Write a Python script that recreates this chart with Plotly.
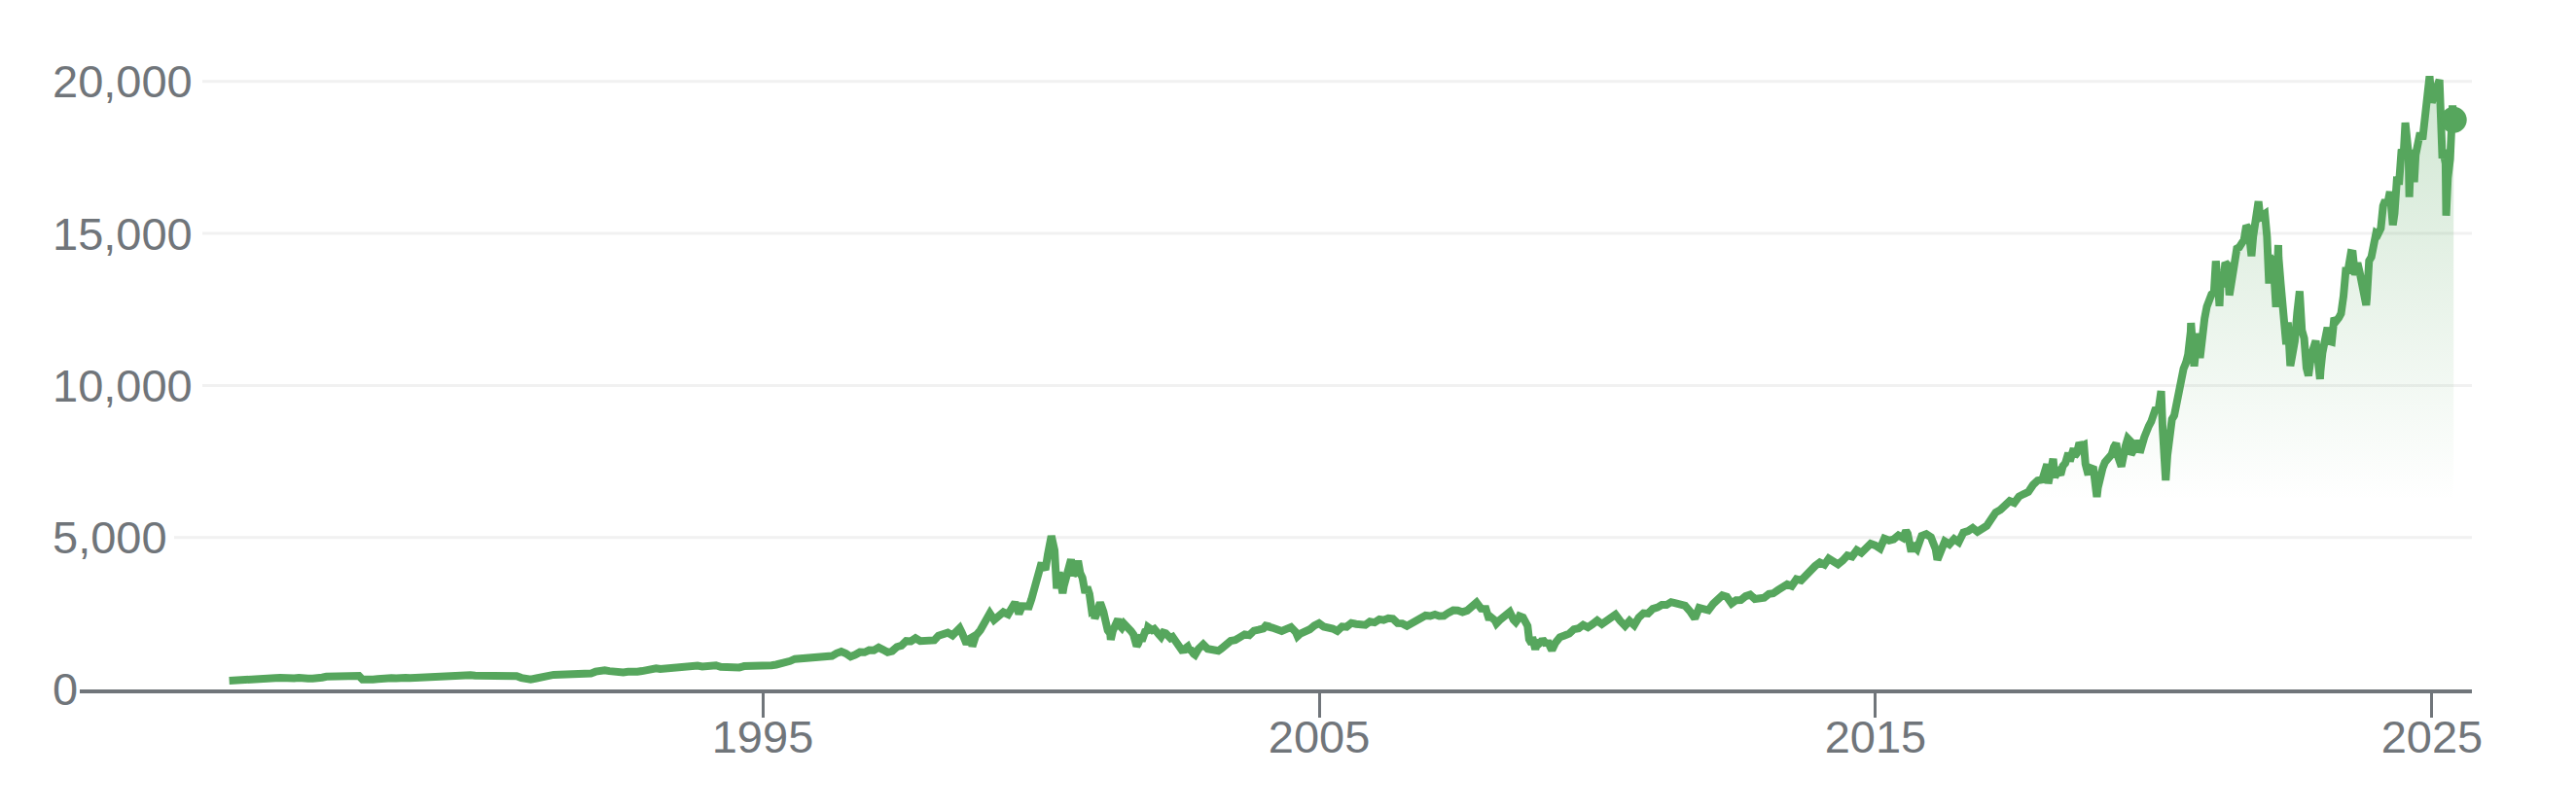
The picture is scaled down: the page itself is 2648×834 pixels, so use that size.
import pandas as pd
import plotly.graph_objects as go

# Nasdaq Composite, approximate month-end closes, May 1985 - Apr 2025
close_1985_1989 = [
    290.8, 296.2, 301.3, 297.7, 280.3, 292.3, 313.9, 324.9,
    335.8, 359.5, 374.7, 383.2, 400.2, 405.5, 371.4, 382.9, 350.7, 360.8, 359.6, 348.8,
    392.1, 424.0, 430.1, 417.8, 416.0, 424.7, 434.9, 454.9, 444.3, 323.3, 305.2, 330.5,
    344.7, 366.6, 374.6, 379.2, 370.3, 394.7, 387.3, 376.6, 387.7, 382.5, 371.5, 381.4,
    401.3, 399.7, 406.7, 427.6, 446.2, 435.3, 453.8, 469.3, 472.9, 455.6, 456.1, 454.8,
]
close_1990_1994 = [
    410.7, 425.8, 435.5, 420.1, 458.0, 462.3, 438.2, 381.2, 344.5, 329.8, 359.1, 373.8,
    414.2, 453.1, 482.3, 484.7, 506.1, 475.9, 502.0, 525.7, 526.9, 542.9, 523.9, 586.3,
    620.2, 633.5, 603.8, 578.7, 585.3, 563.6, 580.8, 563.1, 583.3, 605.2, 652.7, 677.0,
    696.3, 670.8, 690.1, 661.4, 700.5, 703.9, 704.7, 742.8, 763.0, 779.3, 754.4, 776.8,
    800.5, 793.0, 743.5, 733.8, 735.2, 706.0, 722.2, 765.6, 764.3, 777.5, 750.3, 752.0,
]
close_1995_1999 = [
    755.2, 793.7, 817.2, 843.9, 864.6, 933.5, 1001.2, 1020.1, 1043.5, 1036.1, 1059.2, 1052.1,
    1059.8, 1100.1, 1101.4, 1190.5, 1243.4, 1185.0, 1080.6, 1141.5, 1226.9, 1221.5, 1292.6, 1291.0,
    1379.9, 1309.0, 1221.7, 1260.8, 1400.3, 1442.1, 1593.8, 1587.3, 1685.7, 1593.6, 1600.6, 1570.4,
    1619.4, 1770.5, 1835.7, 1868.4, 1778.9, 1894.7, 1872.4, 1499.3, 1694.8, 1771.4, 1949.5, 2192.7,
    2505.9, 2288.0, 2461.4, 2542.9, 2470.5, 2686.1, 2638.5, 2739.4, 2746.2, 2966.4, 3336.2, 4069.3,
]
close_2000_2004 = [
    3940.4, 4696.7, 4572.8, 3860.7, 3400.9, 3966.1, 3767.0, 4206.4, 3672.8, 3369.6, 2597.9, 2470.5,
    2772.7, 2151.8, 1840.3, 2116.2, 2110.5, 2160.5, 2027.1, 1805.4, 1498.8, 1690.2, 1930.6, 1950.4,
    1934.0, 1731.5, 1845.4, 1688.2, 1615.7, 1463.2, 1328.3, 1314.9, 1172.1, 1329.8, 1478.8, 1335.5,
    1320.9, 1337.5, 1341.2, 1464.3, 1595.9, 1622.8, 1735.0, 1810.5, 1786.9, 1932.2, 1960.3, 2003.4,
    2066.2, 2029.8, 1994.2, 1920.2, 1986.7, 2047.8, 1887.4, 1838.1, 1896.8, 1975.0, 2096.8, 2175.4,
]
close_2005_2009 = [
    2062.4, 2051.7, 1999.2, 1921.7, 2068.2, 2057.0, 2184.8, 2152.1, 2151.7, 2120.3, 2232.8, 2205.3,
    2305.8, 2281.4, 2339.8, 2322.6, 2178.9, 2172.1, 2091.5, 2183.8, 2258.4, 2366.7, 2431.8, 2415.3,
    2463.9, 2416.2, 2421.6, 2525.1, 2604.5, 2603.2, 2546.3, 2596.4, 2701.5, 2859.1, 2661.0, 2652.3,
    2389.9, 2271.5, 2279.1, 2412.8, 2522.7, 2293.0, 2325.6, 2367.5, 2091.9, 1721.0, 1535.6, 1577.0,
    1476.4, 1377.8, 1528.6, 1717.3, 1774.3, 1835.0, 1979.0, 2009.1, 2122.4, 2045.1, 2144.6, 2269.2,
]
close_2010_2014 = [
    2147.4, 2238.3, 2398.0, 2461.2, 2257.0, 2109.2, 2254.7, 2114.0, 2368.6, 2507.4, 2498.2, 2652.9,
    2700.1, 2782.3, 2781.1, 2873.5, 2835.3, 2773.5, 2756.4, 2579.5, 2415.4, 2684.4, 2620.3, 2605.2,
    2813.8, 2966.9, 3091.6, 3046.4, 2827.3, 2935.1, 2939.5, 3067.0, 3116.2, 2977.2, 3010.2, 3019.5,
    3142.1, 3160.2, 3267.5, 3328.8, 3455.9, 3403.3, 3626.4, 3589.9, 3771.5, 3919.7, 4059.9, 4176.6,
    4104.0, 4308.1, 4199.0, 4114.6, 4242.6, 4408.2, 4369.8, 4580.3, 4493.4, 4630.7, 4791.6, 4736.1,
]
close_2015_2019 = [
    4635.2, 4963.5, 4900.9, 4941.4, 5070.0, 4986.9, 5128.3, 4776.5, 4620.2, 5053.8, 5108.7, 5007.4,
    4614.0, 4558.0, 4869.8, 4775.4, 4948.1, 4843.0, 5162.1, 5213.2, 5312.0, 5189.1, 5323.7, 5383.1,
    5614.8, 5825.4, 5911.7, 6047.6, 6198.5, 6140.4, 6348.1, 6428.7, 6496.0, 6727.7, 6874.0, 6903.4,
    7411.5, 7273.0, 7063.4, 7066.3, 7442.1, 7510.3, 7671.8, 8109.5, 8046.4, 7305.9, 7330.5, 6635.3,
    7281.7, 7532.5, 7729.3, 8095.4, 7453.2, 8006.2, 8175.4, 7962.9, 7999.3, 8292.4, 8665.5, 8972.6,
]
close_2020_2025 = [
    9150.9, 8567.4, 7700.1, 8889.6, 9489.9, 10058.8, 10745.3, 11775.5, 11167.5, 10911.6, 12198.7, 12888.3,
    13070.7, 13192.3, 13246.9, 13962.7, 13748.7, 14504.0, 14672.7, 15259.2, 14448.6, 15498.4, 15537.7, 15645.0,
    14239.9, 13751.4, 14220.5, 12334.6, 12081.4, 11028.7, 12390.7, 11816.2, 10575.6, 10988.2, 11468.0, 10466.5,
    11584.6, 11455.5, 12221.9, 12226.6, 12935.3, 13787.9, 14346.0, 14035.0, 13219.3, 12851.2, 14226.2, 15011.4,
    15164.0, 16091.9, 16379.5, 15657.8, 16735.0, 17732.6, 17599.4, 17713.6, 18189.2, 18095.2, 19218.2, 19310.8,
    19627.4, 18847.3, 17299.3, 17446.3,
]

# intra-month swings visible in the chart
swing_dates_1987_2003 = [
    "1987-10-23", "1998-07-17", "1998-09-15", "1998-10-08",
    "1999-01-15", "1999-07-16", "1999-08-10", "1999-09-15", "1999-10-15", "1999-11-15", "1999-12-15",
    "2000-01-14", "2000-02-15", "2000-03-10", "2000-04-14", "2000-05-23", "2000-07-17", "2000-08-15",
    "2000-09-01", "2000-09-15", "2000-10-18", "2000-11-15", "2000-12-15", "2000-12-20",
    "2001-01-24", "2001-02-15", "2001-03-15", "2001-04-04", "2001-04-17", "2001-05-22", "2001-06-15",
    "2001-08-15", "2001-09-21", "2001-10-15", "2001-11-15", "2001-12-05",
    "2002-01-15", "2002-02-15", "2002-03-15", "2002-04-15", "2002-05-15", "2002-06-14", "2002-07-23",
    "2002-08-22", "2002-09-13", "2002-10-09", "2002-12-02", "2003-03-11",
]
swing_values_1987_2003 = [
    328.0, 2014.2, 1650.0, 1419.0,
    2348.2, 2864.5, 2491.2, 2749.6, 2731.3, 3221.2, 3716.1,
    4064.3, 4420.8, 5048.6, 3321.3, 3164.6, 4274.7, 3851.7,
    4234.3, 3835.2, 3171.6, 3138.3, 2653.3, 2332.8,
    2859.2, 2552.9, 1940.7, 1638.8, 1923.2, 2313.9, 2028.4,
    1918.9, 1423.2, 1696.3, 1900.6, 2046.8,
    1991.0, 1805.2, 1868.3, 1756.2, 1730.3, 1504.7, 1229.1,
    1409.3, 1292.3, 1139.9, 1484.8, 1271.5,
]
swing_dates_2004_2019 = [
    "2004-01-26", "2004-08-12", "2007-10-31", "2008-01-22", "2008-03-10", "2008-06-05", "2008-07-15",
    "2008-08-08", "2008-10-10", "2008-10-27", "2008-11-20", "2008-12-15", "2009-01-06", "2009-02-09",
    "2009-03-09", "2010-07-02", "2011-10-03", "2015-07-20", "2015-08-24", "2016-02-11",
    "2018-01-16", "2018-02-08", "2018-02-15", "2018-03-12", "2018-03-23", "2018-04-16", "2018-05-15",
    "2018-06-20", "2018-07-25", "2018-08-15", "2018-08-29", "2018-09-14", "2018-10-10", "2018-10-29",
    "2018-11-15", "2018-12-14", "2018-12-24",
    "2019-01-15", "2019-02-15", "2019-03-15", "2019-04-15", "2019-05-13", "2019-06-03", "2019-07-15",
    "2019-08-05", "2019-09-13", "2019-10-02", "2019-11-15", "2019-12-16",
]
swing_values_2004_2019 = [
    2153.8, 1752.5, 2859.1, 2292.3, 2169.3, 2549.9, 2215.7,
    2414.1, 1649.5, 1505.9, 1316.1, 1508.3, 1652.4, 1591.7,
    1293.9, 2091.8, 2335.8, 5218.9, 4526.3, 4266.8,
    7223.7, 6777.2, 7256.4, 7588.3, 6993.0, 7156.3, 7351.6,
    7781.5, 7932.2, 7774.1, 8109.7, 8010.0, 7422.1, 7050.3,
    7259.0, 6910.7, 6333.0,
    7023.8, 7472.4, 7688.5, 7976.0, 7647.0, 7333.0, 8258.2,
    7726.0, 8176.7, 7785.3, 8540.8, 8814.2,
]
swing_dates_2020_2025 = [
    "2020-01-15", "2020-02-19", "2020-03-13", "2020-03-20", "2020-04-15", "2020-05-15", "2020-06-15",
    "2020-07-15", "2020-08-14", "2020-09-02", "2020-09-23", "2020-10-15", "2020-11-13", "2020-12-15",
    "2021-01-15", "2021-02-12", "2021-03-08", "2021-03-15", "2021-04-15", "2021-05-12", "2021-06-15",
    "2021-07-15", "2021-08-16", "2021-09-15", "2021-10-04", "2021-10-15", "2021-11-19", "2021-12-15",
    "2022-01-14", "2022-01-27", "2022-02-15", "2022-03-14", "2022-03-29", "2022-04-14", "2022-05-13",
    "2022-05-20", "2022-06-16", "2022-07-15", "2022-08-16", "2022-09-15", "2022-10-13", "2022-11-15",
    "2022-12-15", "2022-12-28",
    "2023-01-13", "2023-02-15", "2023-03-15", "2023-04-14", "2023-05-15", "2023-06-15", "2023-07-19",
    "2023-08-15", "2023-09-15", "2023-10-27", "2023-11-15", "2023-12-15",
    "2024-01-12", "2024-02-15", "2024-03-15", "2024-04-19", "2024-05-15", "2024-06-14", "2024-07-10",
    "2024-08-05", "2024-08-15", "2024-09-06", "2024-09-16", "2024-10-15", "2024-11-15", "2024-12-16",
    "2025-01-15", "2025-02-19", "2025-03-10", "2025-03-14", "2025-04-04", "2025-04-15", "2025-05-16",
    "2025-05-23",
]
swing_values_2020_2025 = [
    9258.7, 9817.2, 7874.9, 6879.5, 8393.2, 9014.6, 9726.0,
    10550.5, 11019.3, 12056.4, 10633.0, 11714.0, 11829.3, 12595.1,
    12998.5, 14095.5, 12609.2, 13459.7, 14038.8, 12971.0, 14072.9,
    14543.1, 14793.8, 15161.5, 14255.5, 14897.3, 16057.4, 15565.6,
    14893.8, 13352.8, 14139.8, 12581.2, 14619.6, 13351.1, 11805.0,
    11354.6, 10646.1, 11452.4, 13102.6, 11552.4, 10321.4, 11358.4,
    10810.5, 10213.3,
    11079.2, 11910.5, 11434.1, 12123.5, 12365.2, 13782.8, 14358.0,
    13631.1, 13708.3, 12643.0, 14103.8, 14813.9,
    14972.8, 15906.2, 15973.2, 15282.0, 16742.4, 17688.9, 18647.5,
    16200.1, 17594.5, 16690.8, 17592.1, 18315.6, 18680.1, 20173.9,
    19511.2, 20056.3, 17468.3, 17754.1, 15587.8, 16823.2, 19211.1,
    18737.2,
]

y_ticks = [0, 5000, 10000, 15000, 20000]
y_tick_labels = ["0", "5,000", "10,000", "15,000", "20,000"]
x_ticks = ["1995-01-01", "2005-01-01", "2015-01-01", "2025-01-01"]
x_tick_labels = ["1995", "2005", "2015", "2025"]

monthly = (close_1985_1989 + close_1990_1994 + close_1995_1999 + close_2000_2004
           + close_2005_2009 + close_2010_2014 + close_2015_2019 + close_2020_2025)
m_dates = pd.date_range("1985-05-01", periods=len(monthly), freq="MS") + pd.offsets.MonthEnd(0)

swing_dates = swing_dates_1987_2003 + swing_dates_2004_2019 + swing_dates_2020_2025
swing_values = swing_values_1987_2003 + swing_values_2004_2019 + swing_values_2020_2025

df = pd.concat([
    pd.DataFrame({"date": m_dates, "close": monthly}),
    pd.DataFrame({"date": pd.to_datetime(swing_dates), "close": swing_values}),
]).sort_values("date").drop_duplicates("date").reset_index(drop=True)

GREEN = "#56a65d"
GRAY = "#70757a"
FONT = "Arial, Liberation Sans, sans-serif"

# the page body has an 8px margin; compensate so the plot lands at the reference pixels
OFF = 8
W, H = 2648 - 2 * OFF, 834 - 2 * OFF
ML, MT = 53 - OFF, 40 - OFF
plot_w = 2541 - 53
plot_h = 709 - 40
MR = W - ML - plot_w
MB = H - MT - plot_h

def px_to_paper(px):
    return (px - 53) / plot_w

fig = go.Figure()
fig.add_trace(go.Scatter(
    x=df["date"], y=df["close"], mode="lines",
    line=dict(color=GREEN, width=8),
    fill="tozeroy",
    fillgradient=dict(type="vertical",
                      colorscale=[[0, "rgba(86,166,93,0)"], [1, "rgba(86,166,93,0.28)"]],
                      start=6200, stop=20300),
    hoverinfo="skip",
))
fig.add_trace(go.Scatter(
    x=[df["date"].iloc[-1]], y=[df["close"].iloc[-1]], mode="markers",
    marker=dict(color=GREEN, size=27), hoverinfo="skip",
))

# gridlines start just after each label
shapes = []
for v, lab in zip(y_ticks[1:], y_tick_labels[1:]):
    start_px = 208 if len(lab) > 5 else 179
    shapes.append(dict(type="line", xref="paper", yref="y",
                       x0=px_to_paper(start_px), x1=1, y0=v, y1=v,
                       line=dict(color="#f1f1f1", width=3), layer="below"))

fig.update_layout(
    width=W, height=H,
    margin=dict(l=ML, r=MR, t=MT, b=MB),
    paper_bgcolor="white", plot_bgcolor="white",
    showlegend=False,
    shapes=shapes,
    xaxis=dict(
        domain=[px_to_paper(82), 1],
        range=["1982-09-23", "2025-09-20"],
        tickvals=x_ticks, ticktext=x_tick_labels,
        showline=True, linecolor=GRAY, linewidth=4,
        ticks="outside", ticklen=25, tickwidth=3, tickcolor=GRAY,
        ticklabelstandoff=-20,
        tickfont=dict(family=FONT, size=47, color=GRAY),
        showgrid=False, zeroline=False, automargin=False,
    ),
    yaxis=dict(
        anchor="free", position=0, side="right",
        range=[0, 21402],
        tickvals=y_ticks, ticktext=y_tick_labels,
        tickfont=dict(family=FONT, size=47, color=GRAY),
        ticks="", showline=False, showgrid=False, zeroline=False, automargin=False,
    ),
)

fig.write_html("out.html")
